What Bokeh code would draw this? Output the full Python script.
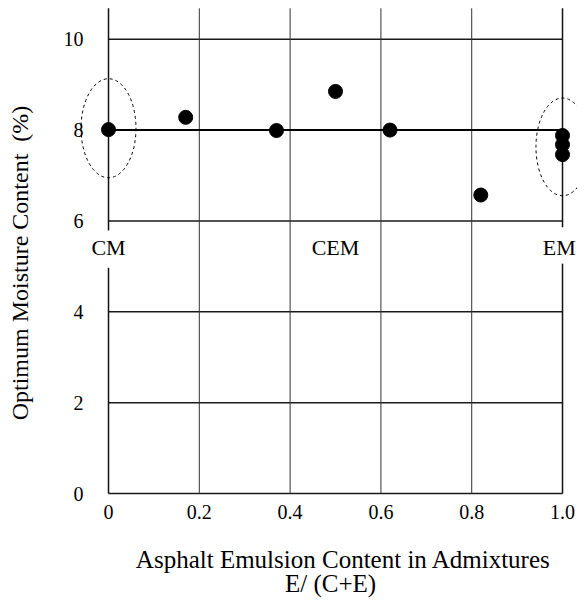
import math
from bokeh.plotting import figure
from bokeh.models import Range1d, FixedTicker, Label
from bokeh.core.properties import value
from bokeh.embed import file_html
from bokeh.resources import INLINE

# ---- data ----
x_pts = [0.0, 0.17, 0.37, 0.50, 0.62, 0.82, 1.0, 1.0, 1.0]
y_pts = [8.01, 8.28, 7.99, 8.85, 8.00, 6.57, 7.88, 7.68, 7.46]
fit_x0 = [0.0]
fit_x1 = [1.0]
fit_y = [8.0]
x_ticks = [0, 0.2, 0.4, 0.6, 0.8, 1.0]
x_tick_labels = ["0", "0.2", "0.4", "0.6", "0.8", "1.0"]
y_ticks = [0, 2, 4, 6, 8, 10]
h_lines = [0, 2, 4, 6, 10]
v_lines = [0.2, 0.4, 0.6, 0.8]
mix_labels = ["CM", "CEM", "EM"]
mix_x = [0.0, 0.5, 0.993]
mix_y = [5.41, 5.41, 5.41]
ell_x = [0.0, 1.0]
ell_y = [8.04, 7.63]
ell_w = [0.121, 0.117]
ell_h = [2.18, 2.15]
border_x = [0.0, 1.0]
border_upper_from = [5.79, 5.86]
border_lower_to = [4.97, 5.06]
y_top = 10.68
x_title = "Asphalt Emulsion Content in Admixtures"
x_title2 = "E/ (C+E)"
y_title = "Optimum Moisture Content \u00a0(%)"

FONT = "Liberation Serif"

# the frame covers the whole canvas; axes are pinned at x=0 / y=0
p = figure(width=577, height=600,
           x_range=Range1d(-0.2379, 1.0330), y_range=Range1d(-2.355, 10.852),
           min_border_left=0, min_border_right=0, min_border_top=0,
           min_border_bottom=0, output_backend="svg", toolbar_location=None)
p.outline_line_color = None
p.grid.visible = False
p.background_fill_color = "white"

p.xaxis.ticker = FixedTicker(ticks=x_ticks)
p.xaxis.major_label_overrides = {t: l for t, l in zip(x_ticks, x_tick_labels)}
p.yaxis.ticker = FixedTicker(ticks=y_ticks)
p.xaxis.fixed_location = 0
p.yaxis.fixed_location = 0
for ax in (p.xaxis, p.yaxis):
    ax.axis_line_color = None
    ax.major_tick_line_color = None
    ax.minor_tick_line_color = None
    ax.major_tick_out = 0
    ax.major_tick_in = 0
    ax.major_label_text_font = FONT
    ax.major_label_text_font_size = "20px"
    ax.major_label_text_color = "black"
p.xaxis.major_label_standoff = 11
p.yaxis.major_label_standoff = 25

# horizontal lines
p.segment(x0=[0.0] * len(h_lines), x1=[1.0] * len(h_lines), y0=h_lines, y1=h_lines,
          line_color="#1a1a1a", line_width=1.5)
# vertical grid lines
p.segment(x0=v_lines, x1=v_lines, y0=[0] * len(v_lines), y1=[y_top] * len(v_lines),
          line_color="#333333", line_width=1)
# side borders (broken around the mixture labels)
p.segment(x0=border_x, x1=border_x, y0=border_upper_from, y1=[y_top] * 2,
          line_color="#111111", line_width=1.5)
p.segment(x0=border_x, x1=border_x, y0=[0, 0], y1=border_lower_to,
          line_color="#111111", line_width=1.5)
# fitted line
p.segment(x0=fit_x0, x1=fit_x1, y0=fit_y, y1=fit_y, line_color="black", line_width=2)

# dashed ellipses
p.ellipse(x=ell_x, y=ell_y, width=ell_w, height=ell_h, fill_color=None,
          line_color="black", line_dash="3 3", line_width=1)

# data points
p.scatter(x_pts, y_pts, size=14, color="black")

# mixture labels
p.text(x=mix_x, y=mix_y, text=mix_labels, text_align="center", text_baseline="middle",
       text_font=value(FONT), text_font_size="22px", text_color="black")

# axis titles
p.add_layout(Label(x=0.5176, y=-1.453, text=x_title, text_align="center",
                   text_baseline="alphabetic", text_font=FONT, text_font_size="25px",
                   text_color="black"))
p.add_layout(Label(x=0.489, y=-1.981, text=x_title2, text_align="center",
                   text_baseline="alphabetic", text_font=FONT, text_font_size="25px",
                   text_color="black"))
p.add_layout(Label(x=-0.1949, y=5.074, text=y_title, angle=math.pi / 2,
                   text_align="center", text_baseline="middle", text_font=FONT,
                   text_font_size="24px", text_color="black"))

open("out.html", "w").write(file_html(p, INLINE))
